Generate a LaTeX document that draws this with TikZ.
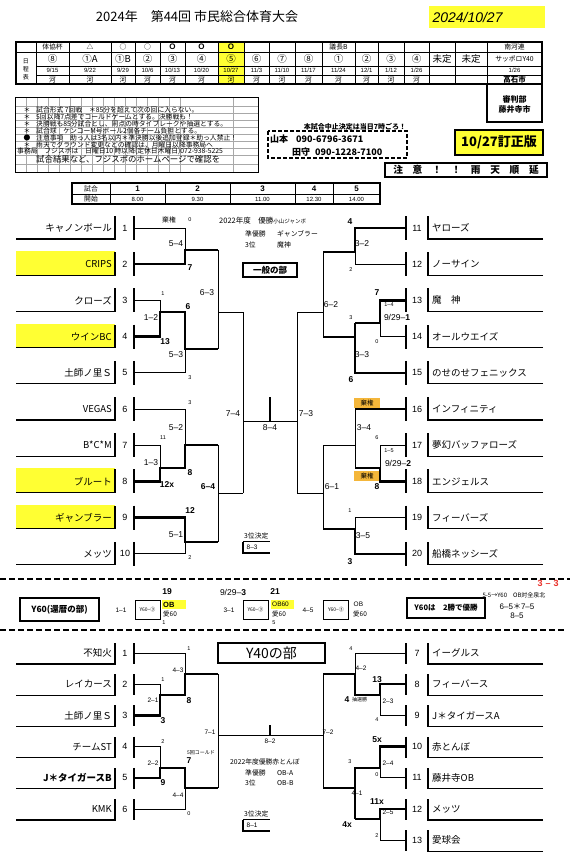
\documentclass[tikz,border=0pt]{standalone}
\usepackage{fontspec}
\setmainfont{Liberation Sans}
\newfontfamily\jp{Noto Sans CJK JP}
\usetikzlibrary{positioning}
\definecolor{Mark}{HTML}{FFFF33}
\definecolor{Forfeit}{HTML}{F4B63A}
\definecolor{Alert}{HTML}{E8312A}
\definecolor{Rule}{HTML}{A8A8A8}
\tikzset{
  team/.style={font=\jp\fontsize{9.5}{10}\selectfont, inner sep=1pt},
  seed/.style={font=\fontsize{9}{10}\selectfont, inner sep=0pt},
  score/.style={font=\fontsize{8.5}{9}\selectfont, inner sep=0.5pt},
  minor/.style={font=\fontsize{6.5}{7}\selectfont, inner sep=0.5pt},
  pts/.style={font=\fontsize{5.5}{6}\selectfont, inner sep=0.5pt},
  winpts/.style={font=\bfseries\fontsize{8.5}{9}\selectfont, inner sep=0.5pt},
  jsmall/.style={font=\jp\fontsize{6.8}{7}\selectfont, inner sep=0pt},
  note/.style={font=\jp\fontsize{6.8}{7}\selectfont, inner sep=0pt, anchor=west},
  cell/.style={line width=0.5pt},
  branch/.style={line width=0.8pt},
  winpath/.style={line width=2.4pt},
  frame/.style={line width=1.1pt},
  banner/.style={draw, line width=1.6pt, inner sep=0pt},
  forfeit/.style={fill=Forfeit, font=\jp\fontsize{6.5}{7}\selectfont,
    minimum width=26pt, minimum height=10pt, inner sep=0pt},
  sep/.style={dash pattern=on 6pt off 3pt, line width=1.4pt}
}
\def\colmid{{52.5,90,123,147.5,172.5,201.5,231,256.5,282,308.5,338.5,366.5,391,416.5,442,471,514.5}}
\begin{document}
\begin{tikzpicture}[x=1pt,y=-1pt]
  \useasboundingbox (0,0) rectangle (570,864);
  % title
  \node[font=\jp\fontsize{13}{13}\selectfont] (title) at (197,17) {2024年　第44回 市民総合体育大会};
  \node[fill=Mark, minimum width=116pt, minimum height=22pt, inner sep=0pt,
    font=\itshape\fontsize{14}{14}\selectfont, text width=108pt] (day) at (486.5,17) {2024/10/27};

  % schedule table
  \fill[Mark] (218,42) rectangle (244,84);
  \foreach \x in {36,69,111,135,160,185,218,244,269,295,322,355,378,404,429,455,487}
    \draw[cell] (\x,42) -- (\x,84);
  \draw[cell] (16,52) -- (542,52);
  \foreach \y in {66,75} \draw[cell] (36,\y) -- (542,\y);
  \draw[line width=1.4pt] (16,42) rectangle (542,84);
  \node[font=\jp\fontsize{6}{8}\selectfont, align=center, inner sep=0pt] (sched) at (26,69) {日\\程\\表};
  \foreach \x/\t [count=\k] in {52.5/体協杯,90/△,123/○,147.5/○,338.5/議長B,514.5/南河連}
    \node[jsmall] (hd\k) at (\x,47) {\t};
  \foreach \x [count=\k] in {172.5,201.5,231}
    \node[font=\bfseries\fontsize{8}{8}\selectfont, inner sep=0pt] (ho\k) at (\x,47) {O};
  \foreach \c [count=\k from 0] in {⑧,①A,①B,②,③,④,⑤,⑥,⑦,⑧,①,②,③,④,未定,未定} {
    \pgfmathsetmacro\cx{\colmid[\k]}
    \node[font=\jp\fontsize{9.5}{10}\selectfont, inner sep=0pt] (rd\k) at (\cx,59) {\c};
  }
  \node[jsmall] (rd16) at (514.5,59) {サッポロY40};
  \foreach \d [count=\k from 0] in {9/15,9/22,9/29,10/6,10/13,10/20,10/27,11/3,11/10,11/17,11/24,12/1,1/12,1/26} {
    \pgfmathsetmacro\cx{\colmid[\k]}
    \node[font=\fontsize{6}{6}\selectfont, inner sep=0pt] (dt\k) at (\cx,70.5) {\d};
  }
  \node[font=\fontsize{6}{6}\selectfont, inner sep=0pt] (dt16) at (514.5,70.5) {1/26};
  \foreach \k in {0,...,13} {
    \pgfmathsetmacro\cx{\colmid[\k]}
    \node[jsmall] (rv\k) at (\cx,79.5) {河};
  }
  \node[jsmall, font=\jp\bfseries\fontsize{7.5}{8}\selectfont] (rv16) at (514.5,79.5) {高石市};
  \draw[line width=1.4pt] (487,84) rectangle (542,122);
  \node[font=\jp\bfseries\fontsize{8}{10}\selectfont, align=center, inner sep=0pt] (umpire) at (514.5,104) {審判部\\藤井寺市};

  % notes
  \foreach \x in {15,26,...,180,233} \draw[Rule, line width=0.3pt] (\x,97) -- (\x,172);
  \foreach \y in {106,113,120,127,134,141,148,155,164} \draw[Rule, line width=0.3pt] (15,\y) -- (258,\y);
  \draw[line width=0.6pt] (15,97) rectangle (258,172);
  \foreach \y/\m/\t [count=\k] in {
      109.5/＊/試合形式 7回戦　＊85分を超えて次の回に入らない。,
      116.5/＊/5回以降7点差でコールドゲームとする。決勝戦も！,
      123.5/＊/決勝戦も85分試合とし、同点の時タイブレークや抽選とする。,
      130.5/＊/試合球　ケンコーM号ボール2個各チーム負担とする。,
      137.5/●/注意事項　助っ人は3名以内＊準決勝以後追加登録＊助っ人禁止！,
      144.5/＊/雨天でグラウンド変更などの確認は、月曜日以降事務局へ} {
    \node[jsmall] (nm\k) at (27,\y) {\m};
    \node[note] (nt\k) at (36,\y) {\t};
  }
  \node[note] (nt7) at (17,151.5) {事務局　フジスポは　日曜日10 時以降(定休日木曜日)072-938-5225};
  \node[note, font=\jp\fontsize{8.4}{9}\selectfont] (nt8) at (36,159.5) {試合結果など、フジスポのホームページで確認を};

  % contacts and notices
  \draw[dash pattern=on 4pt off 2pt, line width=1.3pt] (268,131) rectangle (407,158);
  \node[font=\jp\bfseries\fontsize{7}{7}\selectfont, inner sep=0pt] (stop) at (355,127) {本試合中止決定は当日7時ごろ！};
  \node[anchor=west, font=\jp\bfseries\fontsize{9}{9}\selectfont, inner sep=0pt] (yama) at (270,139) {山本\hspace{8pt}090-6796-3671};
  \node[anchor=west, font=\jp\bfseries\fontsize{9}{9}\selectfont, inner sep=0pt] (tamo) at (292,152) {田守\hspace{5pt}090-1228-7100};
  \node[draw, line width=1.6pt, fill=Mark, minimum width=88pt, minimum height=25pt, inner sep=0pt,
    font=\jp\bfseries\fontsize{13}{13}\selectfont] (fix) at (499,142.5) {10/27訂正版};
  \node[banner, minimum width=162pt, minimum height=14pt, font=\jp\bfseries\fontsize{9.7}{10}\selectfont]
    (rain) at (466,170) {注　意　！　！　雨　天　順　延};

  % start times
  \draw[line width=1.3pt] (72,183) rectangle (380,204);
  \draw[cell] (72,194) -- (380,194);
  \foreach \x in {110,165,230,295,333} \draw[cell] (\x,183) -- (\x,204);
  \node[jsmall] (kk1) at (91,188.5) {試合};
  \node[jsmall] (kk2) at (91,199) {開始};
  \foreach \x/\n/\t in {137.5/1/8.00,197.5/2/9.30,262.5/3/11.00,314/4/12.30,356.5/5/14.00} {
    \node[font=\bfseries\fontsize{8}{8}\selectfont, inner sep=0pt] (gm\n) at (\x,188.5) {\n};
    \node[font=\fontsize{6}{6}\selectfont, inner sep=0pt] (tm\n) at (\x,199) {\t};
  }

  % 一般の部 teams
  \foreach \i/\name/\tone in {1/キャノンボール/white,2/CRIPS/Mark,3/クローズ/white,4/ウインBC/Mark,
      5/土師ノ里Ｓ/white,6/VEGAS/white,7/B*C*M/white,8/ブルート/Mark,9/ギャンブラー/Mark,10/メッツ/white} {
    \pgfmathsetmacro\yy{228+(\i-1)*36.2}
    \fill[\tone] (16,\yy-13) rectangle (115,\yy+11);
    \draw[frame] (16,\yy+11) -- (115,\yy+11) -- (115,\yy-12);
    \node[team, anchor=east] (gn\i) at (113,\yy) {\name};
    \node[seed] (gs\i) at (125,\yy) {\i};
    \draw[frame] (134,\yy-12) -- (134,\yy+12);
    \coordinate (g\i) at (134,\yy);
  }
  \foreach \i/\name in {11/ヤローズ,12/ノーサイン,13/魔　神,14/オールウエイズ,15/のせのせフェニックス,
      16/インフィニティ,17/夢幻バッファローズ,18/エンジェルス,19/フィーバーズ,20/船橋ネッシーズ} {
    \pgfmathsetmacro\yy{228+(\i-11)*36.2}
    \draw[frame] (543,\yy+11) -- (428,\yy+11) -- (428,\yy-12);
    \node[team, anchor=west] (gn\i) at (431,\yy) {\name};
    \node[seed] (gs\i) at (417,\yy) {\i};
    \draw[frame] (406,\yy-12) -- (406,\yy+12);
    \coordinate (g\i) at (406,\yy);
  }
  \foreach \n/\x/\y in {ja/185/250,jb/160/312,jc/185/349,jd/218/312,je/160/468,jf/185/445,jg/185/542,
      jh/218/493,ji/243/421,ka/355/252,kb/380/323,kc/355/337,kd/323/312,ke/380/468,kf/355/445,
      kg/355/529,kh/323/493,ki/297/421,top/270/397}
    \coordinate (\n) at (\x,\y);
  \node[forfeit] (fb) at (367,403) {棄権};
  \node[forfeit] (fc) at (367,476) {棄権};
  % left half
  \draw[branch] (g1) -| (ja);
  \draw[winpath] (g2) -| (ja) -- (ja -| jd);
  \draw[branch] (g3) -| (jb);
  \draw[winpath] (g4) -| (jb) -- (jb -| jc) |- (jc -| jd);
  \draw[branch] (g5) -| (jc);
  \draw[branch] (ja -| jd) -- (jc -| jd);
  \draw[branch] (jd) -- (jd -| ji);
  \draw[branch] (g6) -| (jf);
  \draw[branch] (g7) -| (je);
  \draw[winpath] (g8) -| (je) -- (je -| jf) |- (jf -| jh);
  \draw[winpath] (g9) -| (jg) -- (jg -| jh);
  \draw[branch] (g10) -| (jg);
  \draw[branch] (jf -| jh) -- (jg -| jh);
  \draw[branch] (jh) -- (jh -| ji);
  \draw[branch] (jd -| ji) -- (jh -| ji);
  % right half
  \draw[winpath] (g11) -| (ka) -- (ka -| kd);
  \draw[branch] (g12) -| (ka);
  \draw[winpath] (g13) -| (kb) -- (kb -| kc);
  \draw[branch] (g14) -| (kb);
  \draw[winpath] (kb -| kc) -- (g15 -| kc) -- (g15);
  \draw[winpath] (kc) -- (kc -| kd);
  \draw[branch] (ka -| kd) -- (kc -| kd);
  \draw[branch] (kd) -- (kd -| ki);
  \draw[winpath] (g16) -- (g16 -| kf);
  \draw[branch] (g16 -| kf) -- (ke -| kf);
  \draw[branch] (kf) -- (kf -| kh);
  \draw[branch] (g17) -| (ke);
  \draw[winpath] (g18) -| (ke) -- (ke -| kf);
  \draw[branch] (g19) -| (kg);
  \draw[winpath] (g20) -| (kg) -- (kg -| kh);
  \draw[branch] (kf -| kh) -- (kg -| kh);
  \draw[branch] (kh) -- (kh -| ki);
  \draw[branch] (kd -| ki) -- (kh -| ki);
  % final
  \draw[branch] (ji) -- (ki);
  \draw[winpath] (top) -- (top |- ji);
  % results
  \foreach \n/\x/\y/\t in {r1/176/244/5--4,r2/151/318/1--2,r3/176/355/5--3,r4/207/293/6--3,r5/176/428/5--2,
      r6/151/463/1--3,r7/176/535/5--1,r8/233/414/7--4,r9/270/428/8--4,r10/306/414/7--3,r11/362/244/3--2,
      r12/331/305/6--2,r13/362/355/3--3,r14/364/428/3--4,r15/332/487/6--1,r16/363/536/3--5}
    \node[score] (\n) at (\x,\y) {\t};
  \foreach \n/\x/\y/\t in {p1/190/220/0,p2/163/294/1,p3/190/378/3,p4/190/403/3,p5/163/438/11,p6/190/558/2,
      p7/351/270/2,p8/389/305/1--4,p9/351/318/3,p10/377/342/0,p11/377/438/6,p12/389/451/1--5,p13/350/511/1}
    \node[pts] (\n) at (\x,\y) {\t};
  \foreach \n/\x/\y/\t in {w1/190/268/7,w2/188/307/6,w3/165/342/13,w4/190/473/8,w5/167/485/12x,
      w6/208/487/6--4,w7/190/511/12,w8/350/222/4,w9/377/293/7,w10/351/380/6,w11/377/487/8,w12/350/562/3}
    \node[winpts] (\n) at (\x,\y) {\t};
  \node[score] (d1) at (397,317) {9/29--\textbf{1}};
  \node[score] (d2) at (398,463) {9/29--\textbf{2}};
  \node[jsmall] (fa) at (169,220) {棄権};
  % 一般の部 centre
  \node[jsmall, anchor=west, font=\jp\fontsize{7.5}{8}\selectfont] (champ) at (219,221)
    {2022年度　優勝{\fontsize{5.5}{6}\selectfont 小山ジャンボ}};
  \node[jsmall, anchor=west] (runner) at (245,234) {\makebox[32pt][l]{準優勝}ギャンブラー};
  \node[jsmall, anchor=west] (third) at (245,245) {\makebox[32pt][l]{3位}魔神};
  \node[banner, minimum width=54pt, minimum height=14pt, font=\jp\bfseries\fontsize{8.5}{9}\selectfont]
    (general) at (270,270) {一般の部};
  \node[jsmall, anchor=west] (bronze) at (244,536) {3位決定};
  \node[minor, anchor=west] (bronzesc) at (246,547.5) {8--3};
  \draw[cell] (243,541.5) -- (270,541.5);
  \draw[winpath] (243,541.5) |- (270,553);

  % Y60
  \draw[sep] (0,579) -- (570,579);
  \node[banner, minimum width=79pt, minimum height=23pt, font=\jp\bfseries\fontsize{8.5}{9}\selectfont]
    (y60) at (59.5,609.5) {Y60(還暦の部)};
  \foreach \n/\x/\y/\t in {l1/121/610/1--1,l2/229/610/3--1,l3/308/610/4--5}
    \node[minor] (\n) at (\x,\y) {\t};
  \foreach \n/\x in {a/147.5,b/255.5,c/336}
    \node[draw, line width=0.5pt, minimum width=25pt, minimum height=19pt, inner sep=0pt,
      font=\jp\fontsize{5}{5}\selectfont] (m60\n) at (\x,609.5)
      {Y60−\ifx\n a①\else\ifx\n b②\else③\fi\fi};
  \node[fill=Mark, anchor=west, minimum width=24pt, minimum height=9pt, inner sep=1pt,
    font=\bfseries\fontsize{7.5}{8}\selectfont, text width=22pt] (ob1) at (162,604.5) {OB};
  \node[fill=Mark, anchor=west, minimum width=23pt, minimum height=9pt, inner sep=1pt,
    font=\fontsize{6.5}{7}\selectfont, text width=21pt] (ob2) at (271,604.5) {OB60};
  \node[minor, anchor=west] (ob3) at (353,604.5) {OB};
  \foreach \n/\x in {1/163,2/272,3/353}
    \node[jsmall, anchor=west, font=\jp\fontsize{6.5}{7}\selectfont] (ai\n) at (\x,614) {愛60};
  \node[winpts] (t19) at (167,592) {19};
  \node[winpts] (t21) at (275,592) {21};
  \node[score] (d3) at (233,592) {9/29--\textbf{3}};
  \node[pts] (z1) at (164,623) {1};
  \node[pts] (z2) at (274,623) {5};
  \node[banner, minimum width=78pt, minimum height=20pt, font=\jp\bfseries\fontsize{7.5}{8}\selectfont]
    (twowins) at (446,608) {Y60は　2勝で優勝};
  \node[font=\bfseries\fontsize{9}{9}\selectfont, text=Alert, inner sep=0pt] (tally) at (548,583) {3\,\,--\,\,3};
  \node[jsmall, font=\jp\fontsize{6}{6}\selectfont] (note60) at (514,595) {5-5→Y60　OB対全泉北};
  \node[font=\fontsize{8}{8}\selectfont, inner sep=0pt] (s60a) at (517,606) {6--5{\jp＊}7--5};
  \node[font=\fontsize{8}{8}\selectfont, inner sep=0pt] (s60b) at (517,616) {8--5};
  \draw[sep] (0,630) -- (566,630);

  % Y40 teams
  \foreach \i/\name in {1/不知火,2/レイカース,3/土師ノ里Ｓ,4/チームST,5/\textbf{J＊タイガースB},6/KMK} {
    \pgfmathsetmacro\yy{653+(\i-1)*31.2}
    \draw[frame] (16,\yy+11) -- (115,\yy+11) -- (115,\yy-10);
    \node[team, anchor=east] (yn\i) at (113,\yy) {\name};
    \node[seed] (ys\i) at (125,\yy) {\i};
    \draw[frame] (134,\yy-10) -- (134,\yy+11);
    \coordinate (h\i) at (134,\yy);
  }
  \foreach \i/\name in {7/イーグルス,8/フィーバース,9/J＊タイガースA,10/赤とんぼ,11/藤井寺OB,12/メッツ,13/愛球会} {
    \pgfmathsetmacro\yy{653+(\i-7)*31.2}
    \draw[frame] (543,\yy+11) -- (428,\yy+11) -- (428,\yy-10);
    \node[team, anchor=west] (yn\i) at (431,\yy) {\name};
    \node[seed] (ys\i) at (417,\yy) {\i};
    \draw[frame] (406,\yy-10) -- (406,\yy+11);
    \coordinate (h\i) at (406,\yy);
  }
  \foreach \n/\x/\y in {la/160/695,lb/185/674,lc/160/768,ld/185/788,le/218/735,
      na/380/695,nb/355/674,nc/380/768,nd/380/819,ne/355/788,nf/323/735,cup/270/725}
    \coordinate (\n) at (\x,\y);
  \draw[branch] (h1) -| (lb);
  \draw[branch] (h2) -| (la);
  \draw[winpath] (h3) -| (la) -- (la -| lb) -- (lb) -- (lb -| le);
  \draw[branch] (h4) -| (lc);
  \draw[winpath] (h5) -| (lc) -- (lc -| ld) -- (ld) -- (ld -| le);
  \draw[branch] (h6) -| (ld);
  \draw[branch] (lb -| le) -- (ld -| le);
  \draw[branch] (h7) -| (nb);
  \draw[winpath] (h8) -| (na) -- (na -| nb) -- (nb) -- (nb -| nf);
  \draw[branch] (h9) -| (na);
  \draw[winpath] (h10) -| (nc) -- (nc -| ne) -- (nd -| ne);
  \draw[branch] (h11) -| (nc);
  \draw[winpath] (h12) -| (nd) -- (nd -| ne);
  \draw[branch] (h13) -| (nd);
  \draw[winpath] (ne) -- (ne -| nf);
  \draw[branch] (nb -| nf) -- (ne -| nf);
  \draw[branch] (le) -- (nf);
  \draw[winpath] (cup) -- (cup |- le);
  \foreach \n/\x/\y/\t in {u1/178/670/4--3,u2/153/700/2--1,u3/153/763/2--2,u4/178/795/4--4,u5/210/732/7--1,
      u6/270/741/8--2,u7/361/668/4--2,u8/388/701/2--3,u9/328/732/7--2,u10/388/763/2--4,u11/357/793/4--1,u12/388/812/2--5}
    \node[minor] (\n) at (\x,\y) {\t};
  \foreach \n/\x/\y/\t in {v1/189/649/1,v2/163/680/1,v3/163/742/2,v4/189/814/0,v5/351/649/4,
      v6/377/720/4,v7/350/762/3,v8/377/775/0,v9/377/836/2}
    \node[pts] (\n) at (\x,\y) {\t};
  \foreach \n/\x/\y/\t in {x1/163/721/3,x2/189/701/8,x3/163/783/9,x4/189/761/7,x5/377/680/13,
      x6/347/700/4,x7/377/740/5x,x8/377/802/11x,x9/347/825/4x}
    \node[winpts] (\n) at (\x,\y) {\t};
  \node[jsmall, anchor=west, font=\jp\fontsize{5}{5}\selectfont] (cold) at (187,753) {5回コールド};
  \node[jsmall, anchor=west, font=\jp\fontsize{5}{5}\selectfont] (lot) at (352,700) {抽選勝};
  % Y40 centre
  \node[banner, minimum width=107pt, minimum height=20pt, font=\jp\fontsize{14}{14}\selectfont]
    (senior) at (271.5,653) {Y40の部};
  \node[jsmall, anchor=west] (champ40) at (230,762) {2022年度優勝赤とんぼ};
  \node[jsmall, anchor=west] (runner40) at (245,773) {\makebox[32pt][l]{準優勝}OB-A};
  \node[jsmall, anchor=west] (third40) at (245,783) {\makebox[32pt][l]{3位}OB-B};
  \node[jsmall, anchor=west] (bronze40) at (244,814) {3位決定};
  \node[minor, anchor=west] (bronzesc40) at (246,825.5) {8--1};
  \draw[cell] (243,819.5) -- (270,819.5);
  \draw[winpath] (243,819.5) |- (270,831);
\end{tikzpicture}
\end{document}
